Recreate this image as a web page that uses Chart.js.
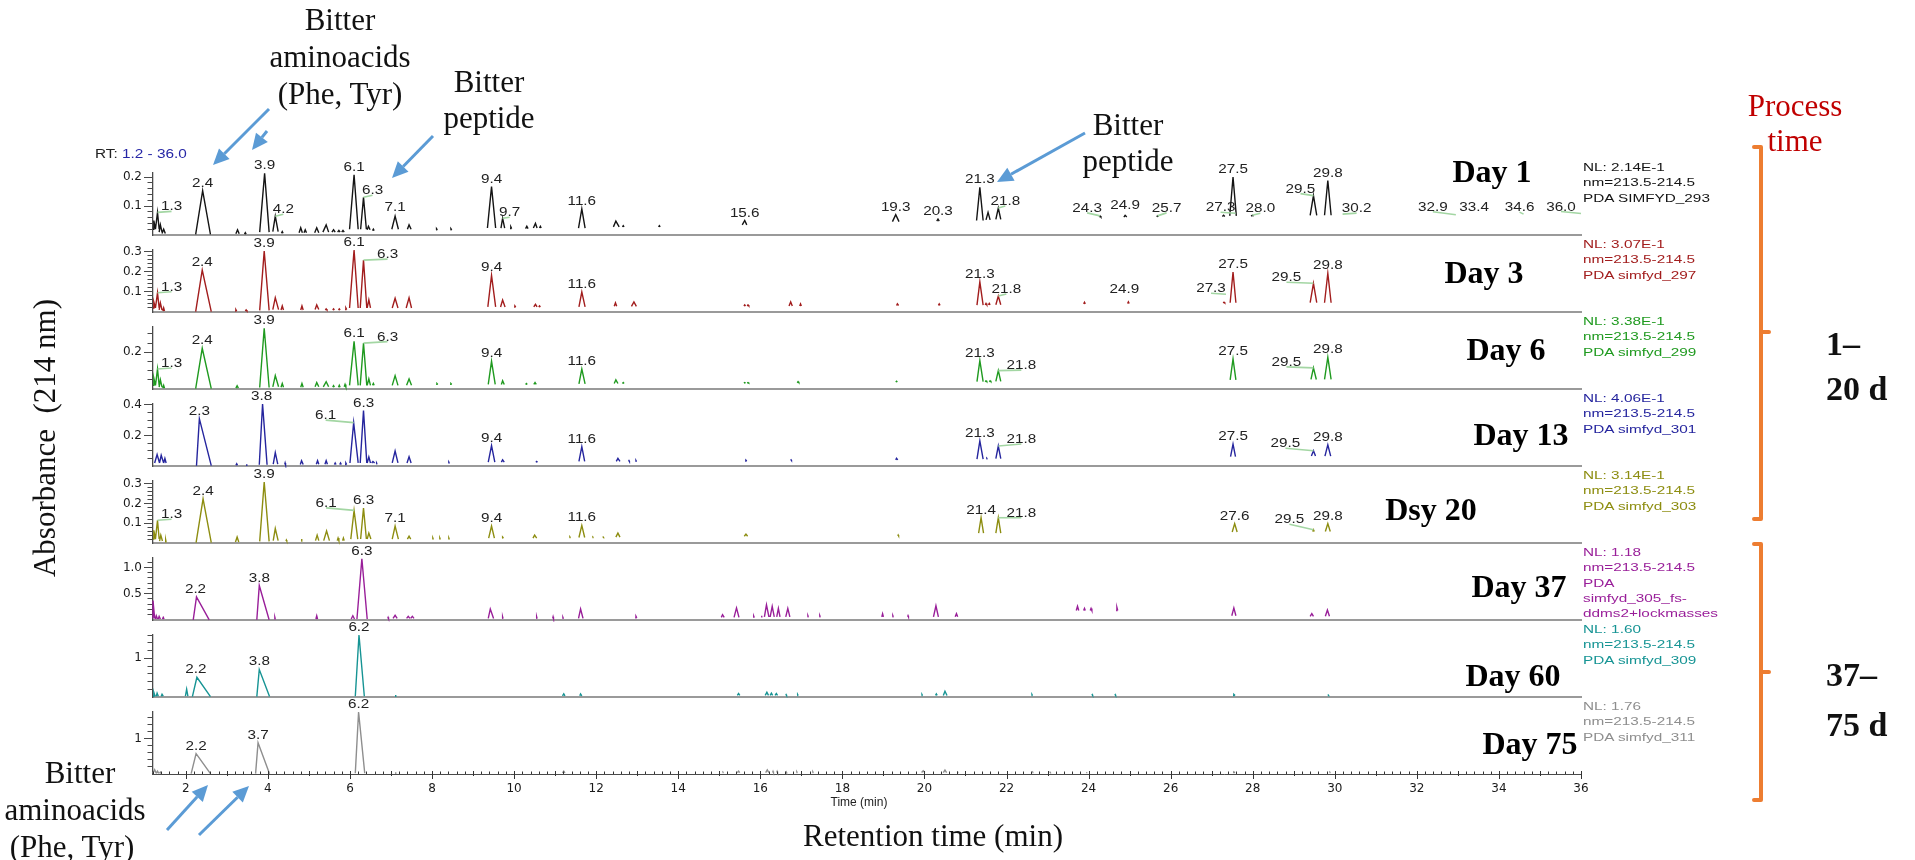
<!DOCTYPE html>
<html lang="en">
<head>
<meta charset="utf-8">
<title>PDA chromatograms (214 nm) over process time</title>
<script src="https://cdn.jsdelivr.net/npm/chart.js"></script>
<style>
  html, body { margin: 0; padding: 0; background: #ffffff; }
  #stage { position: relative; width: 1915px; height: 860px; overflow: hidden; background: #ffffff; }
  #stage canvas { position: absolute; left: 0; }
  #overlay { position: absolute; left: 0; top: 0; z-index: 5; pointer-events: none; }
  .serif { font-family: 'Liberation Serif', 'Times New Roman', serif; }
  .sans { font-family: 'Liberation Sans', Arial, sans-serif; }
</style>
</head>
<body>
<div id="stage">
  <svg id="overlay" xmlns="http://www.w3.org/2000/svg" width="1915" height="860" viewBox="0 0 1915 860">
    <g id="arrows"></g>
    <g id="nlBlocks"></g>
    <g id="dayLabels"></g>

    <g class="serif" font-size="31" fill="#111" text-anchor="middle">
      <text x="340" y="30">Bitter</text>
      <text x="340" y="67">aminoacids</text>
      <text x="340" y="104">(Phe, Tyr)</text>
      <text x="489" y="92">Bitter</text>
      <text x="489" y="128">peptide</text>
      <text x="1128" y="135">Bitter</text>
      <text x="1128" y="171">peptide</text>
      <text x="80" y="783">Bitter</text>
      <text x="75" y="820">aminoacids</text>
      <text x="72" y="857">(Phe, Tyr)</text>
      <text x="933" y="846">Retention time (min)</text>
      <text transform="translate(55,438) rotate(-90)">Absorbance&#160;&#160;(214 nm)</text>
    </g>
    <g class="serif" font-size="31" fill="#c00000" text-anchor="middle">
      <text x="1795" y="116">Process</text>
      <text x="1795" y="151">time</text>
    </g>
    <g class="serif" font-size="34" font-weight="bold" fill="#111">
      <text x="1826" y="355">1–</text>
      <text x="1826" y="400">20 d</text>
      <text x="1826" y="686">37–</text>
      <text x="1826" y="736">75 d</text>
    </g>
    <g fill="none" stroke="#ED7D31" stroke-width="4" stroke-linejoin="round" stroke-linecap="round">
      <path d="M1754,147 L1761,147 L1761,519 L1754,519 M1761,332 L1769,332"/>
      <path d="M1754,544 L1761,544 L1761,800 L1754,800 M1761,672 L1769,672"/>
    </g>
    <g transform="translate(95,158) scale(1.28,1)">
      <text class="sans" font-size="12" fill="#222">RT: <tspan fill="#2626a6">1.2 - 36.0</tspan></text>
    </g>
    <text class="sans" x="859" y="806" font-size="12" fill="#222" text-anchor="middle">Time (min)</text>
  </svg>
</div>
<script>
// ====================== DATA ======================
const xRange = [1.2, 36.0];
const xTickLabels = [2, 4, 6, 8, 10, 12, 14, 16, 18, 20, 22, 24, 26, 28, 30, 32, 34, 36];

const panelNames = ['Day 1', 'Day 3', 'Day 6', 'Day 13', 'Dsy 20', 'Day 37', 'Day 60', 'Day 75'];
const nlMax = [0.214, 0.307, 0.338, 0.406, 0.314, 1.18, 1.60, 1.76];
const nlTextLines = [
  ['NL: 2.14E-1', 'nm=213.5-214.5', 'PDA SIMFYD_293'],
  ['NL: 3.07E-1', 'nm=213.5-214.5', 'PDA simfyd_297'],
  ['NL: 3.38E-1', 'nm=213.5-214.5', 'PDA simfyd_299'],
  ['NL: 4.06E-1', 'nm=213.5-214.5', 'PDA simfyd_301'],
  ['NL: 3.14E-1', 'nm=213.5-214.5', 'PDA simfyd_303'],
  ['NL: 1.18', 'nm=213.5-214.5', 'PDA', 'simfyd_305_fs-', 'ddms2+lockmasses'],
  ['NL: 1.60', 'nm=213.5-214.5', 'PDA simfyd_309'],
  ['NL: 1.76', 'nm=213.5-214.5', 'PDA simfyd_311']
];
const yMajorValues = [[0.1, 0.2], [0.1, 0.2, 0.3], [0.2], [0.2, 0.4], [0.1, 0.2, 0.3], [0.5, 1.0], [1], [1]];
const yMajorLabels = [['0.1', '0.2'], ['0.1', '0.2', '0.3'], ['0.2'], ['0.2', '0.4'], ['0.1', '0.2', '0.3'], ['0.5', '1.0'], ['1'], ['1']];
const yMinorStep = [0.02, 0.02, 0.05, 0.05, 0.02, 0.1, 0.2, 0.2];

// peaks: [start RT, apex RT, end RT, apex absorbance, base absorbance]
const day1Peaks = [
  [1.20,1.22,1.26,0.05,0.02],[1.26,1.31,1.35,0.078,0.02],[1.35,1.38,1.42,0.035,0.01],[1.42,1.46,1.50,0.02,0.005],
  [2.24,2.41,2.60,0.153,0.002],[3.22,3.26,3.30,0.018,0.004],[3.43,3.45,3.47,0.008,0.003],
  [3.80,3.92,4.03,0.213,0.01],[4.12,4.18,4.25,0.065,0.012],[4.33,4.35,4.37,0.012,0.006],
  [4.76,4.80,4.84,0.025,0.008],[4.88,4.91,4.94,0.018,0.008],[5.14,5.19,5.24,0.025,0.008],[5.34,5.42,5.48,0.035,0.01],
  [5.56,5.60,5.64,0.018,0.01],[5.70,5.73,5.76,0.016,0.01],[5.80,5.83,5.86,0.016,0.01],
  [5.99,6.10,6.20,0.208,0.02],[6.26,6.33,6.40,0.130,0.02],[6.42,6.45,6.49,0.03,0.018],[6.55,6.57,6.59,0.02,0.015],
  [7.02,7.10,7.18,0.065,0.02],[7.40,7.44,7.49,0.035,0.02],[8.10,8.11,8.13,0.022,0.018],[8.45,8.46,8.48,0.022,0.018],
  [9.35,9.45,9.55,0.167,0.024],[9.68,9.72,9.77,0.058,0.024],[9.90,9.92,9.94,0.028,0.022],[10.28,10.31,10.34,0.03,0.022],
  [10.47,10.52,10.56,0.04,0.024],[10.62,10.64,10.66,0.03,0.024],[11.57,11.65,11.73,0.09,0.024],
  [12.42,12.48,12.56,0.048,0.028],[12.64,12.66,12.68,0.032,0.028],[13.52,13.54,13.56,0.032,0.028],
  [15.56,15.62,15.67,0.05,0.035],[19.22,19.30,19.38,0.07,0.046],[20.30,20.33,20.36,0.055,0.048],
  [21.27,21.35,21.43,0.165,0.05],[21.50,21.55,21.60,0.078,0.052],[21.74,21.80,21.86,0.093,0.054],
  [24.26,24.28,24.30,0.066,0.062],[24.86,24.89,24.93,0.068,0.062],[25.66,25.68,25.70,0.066,0.063],
  [27.26,27.29,27.32,0.068,0.064],[27.44,27.52,27.60,0.200,0.066],[27.96,27.99,28.02,0.068,0.065],
  [29.40,29.48,29.56,0.136,0.068],[29.75,29.83,29.91,0.188,0.068]
];
const day3Peaks = [
  [1.20,1.22,1.26,0.05,0.02],[1.26,1.31,1.35,0.095,0.02],[1.35,1.38,1.42,0.045,0.01],[1.44,1.46,1.48,0.02,0.005],
  [2.24,2.40,2.62,0.208,0.002],[3.20,3.22,3.24,0.012,0.005],[3.45,3.47,3.49,0.01,0.005],
  [3.80,3.91,4.03,0.302,0.008],[4.12,4.18,4.26,0.071,0.012],[4.32,4.35,4.38,0.03,0.01],
  [4.80,4.83,4.86,0.03,0.01],[5.15,5.19,5.24,0.035,0.012],[5.40,5.42,5.44,0.015,0.01],[5.58,5.60,5.62,0.015,0.01],
  [5.72,5.74,5.76,0.015,0.01],[5.88,5.90,5.92,0.02,0.012],
  [5.99,6.10,6.20,0.307,0.02],[6.25,6.33,6.41,0.257,0.02],[6.42,6.46,6.50,0.06,0.02],
  [7.03,7.10,7.17,0.068,0.02],[7.37,7.44,7.50,0.07,0.02],
  [9.36,9.45,9.55,0.181,0.025],[9.67,9.72,9.78,0.059,0.025],[10.00,10.02,10.04,0.03,0.025],
  [10.48,10.52,10.56,0.038,0.025],[10.60,10.62,10.64,0.03,0.025],[11.58,11.65,11.73,0.099,0.025],
  [12.44,12.47,12.50,0.045,0.028],[12.86,12.92,12.98,0.05,0.028],[15.60,15.62,15.64,0.035,0.03],[15.68,15.70,15.72,0.035,0.03],
  [16.70,16.74,16.78,0.05,0.03],[16.96,16.98,17.00,0.04,0.03],[19.32,19.34,19.37,0.04,0.032],[20.34,20.36,20.38,0.04,0.033],
  [21.28,21.35,21.43,0.149,0.034],[21.48,21.50,21.52,0.042,0.035],[21.56,21.58,21.60,0.042,0.035],[21.74,21.80,21.86,0.079,0.036],
  [23.88,23.90,23.92,0.048,0.04],[24.95,24.97,24.99,0.05,0.042],[27.28,27.30,27.32,0.048,0.044],
  [27.45,27.52,27.59,0.198,0.046],[29.40,29.48,29.56,0.142,0.046],[29.75,29.83,29.91,0.192,0.046]
];
const day6Peaks = [
  [1.20,1.22,1.26,0.06,0.02],[1.26,1.31,1.35,0.109,0.02],[1.35,1.38,1.42,0.05,0.01],[1.44,1.46,1.48,0.02,0.005],
  [2.24,2.40,2.62,0.222,0.002],[3.22,3.25,3.28,0.018,0.005],
  [3.80,3.91,4.03,0.331,0.008],[4.12,4.18,4.26,0.073,0.012],[4.32,4.35,4.38,0.03,0.01],
  [4.80,4.83,4.86,0.03,0.01],[5.15,5.19,5.24,0.035,0.012],[5.35,5.42,5.48,0.04,0.012],[5.58,5.60,5.62,0.018,0.01],
  [5.72,5.74,5.76,0.02,0.01],[5.86,5.88,5.90,0.025,0.012],
  [5.99,6.10,6.20,0.26,0.02],[6.25,6.33,6.41,0.25,0.02],[6.42,6.46,6.50,0.055,0.02],[6.55,6.57,6.59,0.03,0.02],
  [7.03,7.10,7.17,0.073,0.02],[7.38,7.44,7.50,0.055,0.02],[8.10,8.12,8.14,0.03,0.025],[8.44,8.46,8.48,0.03,0.025],
  [9.37,9.45,9.54,0.151,0.025],[9.69,9.72,9.76,0.045,0.025],[10.28,10.30,10.32,0.03,0.025],[10.48,10.51,10.54,0.035,0.025],
  [11.58,11.65,11.73,0.109,0.028],[12.44,12.48,12.53,0.05,0.03],[12.64,12.66,12.68,0.035,0.03],
  [15.60,15.62,15.64,0.035,0.032],[15.68,15.70,15.72,0.035,0.032],[16.90,16.92,16.94,0.04,0.034],[19.30,19.32,19.34,0.042,0.038],
  [21.28,21.35,21.43,0.155,0.04],[21.48,21.50,21.52,0.045,0.04],[21.58,21.60,21.62,0.045,0.04],[21.74,21.80,21.86,0.10,0.042],
  [27.45,27.52,27.59,0.164,0.05],[29.42,29.48,29.55,0.115,0.052],[29.75,29.83,29.91,0.173,0.052]
];
const day13Peaks = [
  [1.24,1.30,1.36,0.075,0.02],[1.36,1.40,1.46,0.07,0.02],[1.46,1.49,1.52,0.05,0.02],
  [2.26,2.33,2.62,0.31,0.002],[3.22,3.24,3.26,0.015,0.005],[3.47,3.48,3.49,0.012,0.005],
  [3.79,3.87,3.98,0.406,0.008],[4.13,4.18,4.24,0.088,0.012],[4.41,4.42,4.43,0.02,0.01],
  [4.79,4.82,4.86,0.035,0.01],[5.18,5.21,5.24,0.035,0.012],[5.39,5.42,5.45,0.035,0.012],
  [5.62,5.64,5.66,0.02,0.01],[5.75,5.77,5.79,0.02,0.01],[5.88,5.90,5.92,0.02,0.01],
  [6.00,6.09,6.20,0.284,0.02],[6.25,6.33,6.41,0.363,0.02],[6.42,6.46,6.50,0.06,0.02],[6.53,6.56,6.60,0.03,0.02],[6.64,6.65,6.66,0.02,0.015],
  [7.03,7.10,7.17,0.098,0.02],[7.39,7.44,7.49,0.061,0.02],[8.40,8.41,8.42,0.025,0.02],
  [9.37,9.45,9.53,0.133,0.025],[9.69,9.72,9.76,0.04,0.025],[10.53,10.55,10.57,0.03,0.025],
  [11.58,11.65,11.72,0.127,0.03],[12.49,12.53,12.58,0.05,0.03],[12.79,12.80,12.81,0.035,0.03],[12.96,12.97,12.98,0.035,0.03],
  [15.63,15.65,15.67,0.038,0.033],[16.74,16.75,16.76,0.04,0.036],[19.30,19.32,19.35,0.05,0.04],
  [21.28,21.35,21.43,0.164,0.045],[21.51,21.52,21.53,0.05,0.047],[21.74,21.80,21.86,0.131,0.048],
  [27.46,27.52,27.58,0.144,0.062],[29.43,29.48,29.53,0.10,0.065],[29.76,29.83,29.90,0.138,0.065]
];
const day20Peaks = [
  [1.20,1.22,1.26,0.064,0.02],[1.26,1.31,1.35,0.115,0.02],[1.36,1.39,1.43,0.04,0.01],[1.50,1.51,1.52,0.015,0.005],
  [2.25,2.42,2.62,0.224,0.002],[3.21,3.25,3.29,0.03,0.005],
  [3.80,3.91,4.03,0.309,0.008],[4.13,4.18,4.25,0.073,0.012],[4.44,4.45,4.46,0.015,0.01],[4.81,4.82,4.83,0.02,0.01],
  [5.16,5.20,5.24,0.04,0.012],[5.36,5.43,5.50,0.061,0.012],[5.69,5.71,5.73,0.025,0.012],[5.82,5.84,5.86,0.025,0.012],
  [6.02,6.10,6.19,0.165,0.02],[6.26,6.33,6.40,0.177,0.02],[6.42,6.46,6.51,0.05,0.02],
  [7.03,7.10,7.18,0.086,0.02],[7.40,7.44,7.48,0.035,0.02],
  [8.01,8.02,8.03,0.025,0.02],[8.18,8.19,8.20,0.025,0.02],[8.40,8.41,8.42,0.025,0.02],
  [9.38,9.45,9.52,0.086,0.025],[9.71,9.72,9.74,0.03,0.025],[10.46,10.50,10.55,0.04,0.025],
  [11.35,11.36,11.37,0.03,0.027],[11.58,11.65,11.72,0.089,0.028],[11.91,11.92,11.93,0.03,0.028],[12.16,12.17,12.18,0.03,0.028],
  [12.48,12.53,12.58,0.05,0.03],[15.61,15.65,15.69,0.045,0.034],[19.35,19.36,19.37,0.04,0.036],
  [21.32,21.38,21.44,0.128,0.05],[21.74,21.80,21.86,0.128,0.05],
  [27.50,27.56,27.62,0.098,0.056],[29.46,29.48,29.50,0.067,0.058],[29.77,29.83,29.89,0.098,0.058]
];
const day37Peaks = [
  [1.20,1.20,1.24,0.37,0.03],[1.26,1.28,1.31,0.08,0.02],[1.33,1.35,1.38,0.07,0.02],[1.43,1.45,1.47,0.05,0.02],
  [2.18,2.26,2.57,0.44,0.003],[3.73,3.79,4.03,0.655,0.005],[4.16,4.17,4.18,0.05,0.02],[5.17,5.19,5.21,0.08,0.02],
  [6.03,6.07,6.11,0.08,0.02],[6.17,6.29,6.42,1.165,0.02],[6.92,6.93,6.94,0.05,0.03],[7.05,7.10,7.15,0.09,0.03],
  [7.38,7.42,7.46,0.07,0.03],[7.48,7.52,7.56,0.07,0.03],[9.37,9.42,9.50,0.21,0.03],[9.71,9.72,9.73,0.06,0.03],
  [10.54,10.55,10.56,0.06,0.03],[10.94,10.95,10.96,0.06,0.03],[11.18,11.19,11.20,0.05,0.03],[11.57,11.62,11.68,0.21,0.03],
  [12.95,12.97,12.99,0.07,0.04],[15.05,15.08,15.12,0.10,0.05],[15.36,15.42,15.48,0.23,0.05],[15.83,15.84,15.85,0.07,0.05],
  [16.02,16.03,16.04,0.08,0.06],[16.10,16.15,16.21,0.29,0.06],[16.24,16.29,16.34,0.26,0.06],[16.40,16.44,16.48,0.22,0.06],
  [16.62,16.67,16.72,0.22,0.06],[17.15,17.16,17.17,0.08,0.06],[17.44,17.45,17.46,0.08,0.06],
  [18.96,18.98,19.00,0.12,0.06],[19.22,19.23,19.24,0.08,0.06],[19.59,19.60,19.61,0.08,0.06],
  [20.22,20.28,20.34,0.27,0.06],[20.75,20.78,20.81,0.12,0.06],
  [23.70,23.73,23.76,0.26,0.18],[23.88,23.90,23.92,0.22,0.18],[24.04,24.06,24.08,0.22,0.18],[24.67,24.69,24.71,0.24,0.18],
  [27.49,27.54,27.59,0.23,0.08],[29.40,29.44,29.48,0.12,0.07],[29.77,29.82,29.87,0.19,0.07]
];
const day60Peaks = [
  [1.20,1.22,1.25,0.12,0.02],[1.28,1.30,1.33,0.10,0.02],[1.40,1.42,1.45,0.07,0.02],[1.99,2.02,2.05,0.20,0.02],
  [2.16,2.27,2.60,0.51,0.01],[3.73,3.79,4.04,0.71,0.01],[6.13,6.22,6.35,1.60,0.02],[7.10,7.11,7.12,0.05,0.02],
  [11.18,11.21,11.24,0.08,0.03],[11.60,11.62,11.65,0.08,0.03],[15.44,15.47,15.50,0.09,0.04],
  [16.12,16.16,16.20,0.12,0.04],[16.24,16.27,16.30,0.10,0.04],[16.36,16.39,16.42,0.09,0.04],[16.62,16.63,16.64,0.06,0.04],[16.90,16.91,16.92,0.06,0.04],
  [19.93,19.94,19.95,0.06,0.04],[20.27,20.29,20.31,0.08,0.04],[20.46,20.50,20.55,0.15,0.04],
  [22.61,22.62,22.63,0.06,0.04],[24.08,24.09,24.10,0.06,0.04],[24.64,24.65,24.66,0.06,0.04],
  [27.52,27.54,27.57,0.07,0.04],[29.83,29.84,29.85,0.05,0.04]
];
const day75Peaks = [
  [1.20,1.24,1.28,0.12,0.02],[1.28,1.31,1.34,0.08,0.02],[1.36,1.38,1.40,0.05,0.02],
  [2.13,2.25,2.60,0.58,0.01],[3.70,3.76,4.04,0.89,0.01],[6.13,6.21,6.36,1.76,0.02],[7.10,7.11,7.12,0.05,0.02],
  [11.18,11.21,11.24,0.08,0.03],[15.08,15.09,15.10,0.05,0.04],[15.44,15.47,15.50,0.08,0.04],
  [16.13,16.17,16.21,0.12,0.04],[16.30,16.31,16.32,0.07,0.04],[16.40,16.41,16.42,0.07,0.04],[16.62,16.63,16.64,0.06,0.04],
  [16.88,16.89,16.90,0.06,0.04],[17.27,17.28,17.29,0.06,0.04],
  [19.93,19.97,20.01,0.09,0.04],[20.46,20.50,20.54,0.11,0.04],[20.80,20.81,20.82,0.05,0.04],
  [22.63,22.64,22.65,0.05,0.04],[23.05,23.06,23.07,0.05,0.04],[23.94,23.95,23.96,0.05,0.04],
  [27.52,27.54,27.57,0.06,0.04],[29.87,29.88,29.89,0.05,0.04]
];

// peak labels: [text, apex RT, apex absorbance]
const day1Labels = [
  ['1.3',1.31,0.078],['2.4',2.41,0.153],['3.9',3.92,0.213],['4.2',4.18,0.065],['6.1',6.10,0.208],['6.3',6.33,0.130],
  ['7.1',7.10,0.065],['9.4',9.45,0.167],['9.7',9.72,0.058],['11.6',11.65,0.09],['15.6',15.62,0.05],['19.3',19.30,0.07],
  ['20.3',20.33,0.055],['21.3',21.35,0.165],['21.8',21.80,0.093],['24.3',24.28,0.066],['24.9',24.89,0.068],['25.7',25.68,0.066],
  ['27.3',27.29,0.068],['27.5',27.52,0.200],['28.0',27.99,0.068],['29.5',29.48,0.136],['29.8',29.83,0.188],['30.2',30.19,0.072],
  ['32.9',32.95,0.07],['33.4',33.42,0.07],['34.6',34.60,0.072],['36.0',36.0,0.074]
];
const day3Labels = [
  ['1.3',1.31,0.095],['2.4',2.40,0.208],['3.9',3.91,0.302],['6.1',6.10,0.307],['6.3',6.33,0.257],['9.4',9.45,0.181],
  ['11.6',11.65,0.099],['21.3',21.35,0.149],['21.8',21.80,0.079],['24.9',24.97,0.05],['27.3',27.30,0.048],['27.5',27.52,0.198],
  ['29.5',29.48,0.142],['29.8',29.83,0.192]
];
const day6Labels = [
  ['1.3',1.31,0.109],['2.4',2.40,0.222],['3.9',3.91,0.331],['6.1',6.10,0.26],['6.3',6.33,0.25],['9.4',9.45,0.151],
  ['11.6',11.65,0.109],['21.3',21.35,0.155],['21.8',21.80,0.10],['27.5',27.52,0.164],['29.5',29.48,0.115],['29.8',29.83,0.173]
];
const day13Labels = [
  ['2.3',2.33,0.31],['3.8',3.87,0.406],['6.1',6.09,0.284],['6.3',6.33,0.363],['9.4',9.45,0.133],['11.6',11.65,0.127],
  ['21.3',21.35,0.164],['21.8',21.80,0.131],['27.5',27.52,0.144],['29.5',29.48,0.10],['29.8',29.83,0.138]
];
const day20Labels = [
  ['1.3',1.31,0.115],['2.4',2.42,0.224],['3.9',3.91,0.309],['6.1',6.10,0.165],['6.3',6.33,0.177],['7.1',7.10,0.086],
  ['9.4',9.45,0.086],['11.6',11.65,0.089],['21.4',21.38,0.128],['21.8',21.80,0.128],['27.6',27.56,0.098],['29.5',29.48,0.067],
  ['29.8',29.83,0.098]
];
const day37Labels = [['2.2',2.26,0.44],['3.8',3.79,0.655],['6.3',6.29,1.165]];
const day60Labels = [['2.2',2.27,0.51],['3.8',3.79,0.71],['6.2',6.22,1.60]];
const day75Labels = [['2.2',2.25,0.58],['3.7',3.76,0.89],['6.2',6.21,1.76]];

// ====================== LAYOUT & STYLE ======================
const LAYOUT = {
  canvasWidth: 1600, plotLeft: 153, plotRightPad: 19, plotHeight: 62,
  baselines: [235, 312, 389, 466, 543, 620, 697, 774],
  upperH: 100, upperBottomPad: 2, lowerH: 140, lowerAxisH: 34,
  nlX: 1583, nlFirstOffset: -64, nlLineStep: 15.3,
  dayLabelPos: [[1492,182],[1484,283],[1506,360],[1521,445],[1431,520],[1519,597],[1513,686],[1530,754]],
  arrows: [[269,109,213,165],[267,131,252,150],[433,136,392,178],[1085,133,997,182],[167,830,208,785],[199,835,249,786]],
  // label nudges: [dx, dy] text offset; 3rd item 1 => leader to apex; 4 items => explicit leader [.., lx, ly]
  labelNudges: [
    [[14,-2,1],[0,-4],[0,-4],[8,-3,1],[0,-4],[9,-3,1],[0,-5],[0,-4],[7,-2,1],[0,-4],[0,-4],[0,-4],[0,-4],[0,-4],[7,-3,1],
     [-13,-4,1],[0,-6],[9,-4,1],[-3,-4,15,1],[0,-4],[8,-3,1],[-13,-3,1],[0,-4],[14,-2,1],[-23,-4,1],[-1,-4],[-4,-3,1],[-20,-3,1]],
    [[14,-2,1],[0,-4],[0,-4],[0,-4],[24,-2,1],[0,-4],[0,-4],[0,-4],[8,-3,1],[-4,-9],[-13,-10,15,1],[0,-4],[-27,-2,1],[0,-4]],
    [[14,-2,1],[0,-4],[0,-4],[0,-4],[24,-2.5,1],[0,-4],[0,-4],[0,-4],[23,-1.5,1],[0,-4],[-27,-2,1],[0,-4]],
    [[0,-4],[-1,-4],[-28,-3.5,1],[0,-4],[0,-4],[0,-4],[0,-4],[23,-3,1],[0,-4],[-28,-3.5,1],[0,-4]],
    [[14,-2,1],[0,-4],[0,-4],[-28,-3.5,1],[0,-4],[0,-4],[0,-4],[0,-4],[0,-4],[23,-1,1],[0,-4],[-24,-6.5,1],[0,-4]],
    [[-1,-4],[0,-4],[0,-4]],
    [[-1,-4],[0,-4],[0,-4]],
    [[0,-4],[0,-4],[0,-4]]
  ]
};
const STYLE = {
  colors: ['#141414', '#a21d1d', '#1f9a1f', '#25259e', '#8d8d10', '#991e99', '#169494', '#8e8e8e'],
  baselineColor: '#9a9a9a', yAxisColor: '#4a4a4a', tickColor: '#4a4a4a', bottomAxisColor: '#4a4a4a',
  tickFont: { family: "'DejaVu Sans', 'Liberation Sans', sans-serif", size: 12 },
  tickLabelColor: '#1a1a1a',
  labelFont: "12.5px 'Liberation Sans', Arial, sans-serif", labelColor: '#222', labelStretch: 1.22,
  leaderColor: '#a3d6a3', traceWidth: 1.4, arrowColor: '#5b9bd5'
};

// ====================== BUILD ======================
const peakSets = [day1Peaks, day3Peaks, day6Peaks, day13Peaks, day20Peaks, day37Peaks, day60Peaks, day75Peaks];
const labelSets = [day1Labels, day3Labels, day6Labels, day13Labels, day20Labels, day37Labels, day60Labels, day75Labels];

const stage = document.getElementById('stage');
const overlay = document.getElementById('overlay');
const SVGNS = 'http://www.w3.org/2000/svg';

function tracePoints(peaks) {
  const pts = [];
  peaks.forEach(p => {
    pts.push({ x: p[0], y: p[4] }, { x: p[1], y: p[3] }, { x: p[2], y: p[4] }, { x: p[2], y: null });
  });
  return pts;
}

function near(a, b) { return Math.abs(a - b) < 1e-6; }

function labelPlugin(labels, nudges) {
  return {
    id: 'peakLabels',
    afterDatasetsDraw(chart) {
      const ctx = chart.ctx, xs = chart.scales.x, ys = chart.scales.y;
      ctx.save();
      labels.forEach((lab, k) => {
        const n = nudges[k] || [0, -4];
        const ax = xs.getPixelForValue(lab[1]);
        const ay = ys.getPixelForValue(lab[2]);
        const tx = ax + n[0], ty = ay + n[1];
        if (n.length >= 3) {
          ctx.beginPath();
          ctx.strokeStyle = STYLE.leaderColor;
          ctx.lineWidth = 1.6;
          ctx.moveTo(tx, ty + 1);
          if (n.length === 4) ctx.lineTo(tx + n[2], ty + 1 + n[3]);
          else ctx.lineTo(ax, ay);
          ctx.stroke();
        }
        ctx.save();
        ctx.translate(tx, ty);
        ctx.scale(STYLE.labelStretch, 1);
        ctx.font = STYLE.labelFont;
        ctx.fillStyle = STYLE.labelColor;
        ctx.textAlign = 'center';
        ctx.textBaseline = 'alphabetic';
        ctx.fillText(lab[0], 0, 0);
        ctx.restore();
      });
      ctx.restore();
    }
  };
}

// tick marks of the time axis: straddle the axis line (minor up, majors also down)
const timeTicksPlugin = {
  id: 'timeTicks',
  afterDraw(chart) {
    const xs = chart.scales.x, ctx = chart.ctx, y0 = Math.round(chart.chartArea.bottom);
    ctx.save();
    ctx.strokeStyle = '#333';
    ctx.lineWidth = 1;
    xs.ticks.forEach(t => {
      const px = Math.round(xs.getPixelForValue(t.value)) + 0.5;
      const r = Math.round(t.value), isInt = near(t.value, r);
      const down = (isInt && xTickLabels.includes(r)) ? 5 : (isInt ? 2 : 0);
      const up = isInt ? 3 : 2.5;
      ctx.beginPath();
      ctx.moveTo(px, y0 - up);
      ctx.lineTo(px, y0 + down);
      ctx.stroke();
    });
    ctx.restore();
  }
};

function makePanel(i) {
  const bottom = i === peakSets.length - 1;
  const H = bottom ? LAYOUT.lowerH : LAYOUT.upperH;
  const areaBottom = bottom ? H - LAYOUT.lowerAxisH : H - LAYOUT.upperBottomPad;
  const cv = document.createElement('canvas');
  cv.width = LAYOUT.canvasWidth; cv.height = H;
  cv.style.width = LAYOUT.canvasWidth + 'px'; cv.style.height = H + 'px';
  cv.style.top = (LAYOUT.baselines[i] - areaBottom) + 'px';
  stage.insertBefore(cv, overlay);

  const majors = yMajorValues[i], majorText = yMajorLabels[i];
  const isMajorY = v => majors.some(m => near(m, v));

  const xScale = bottom ? {
    type: 'linear', min: xRange[0], max: xRange[1],
    border: { display: true, color: STYLE.bottomAxisColor, width: 1 },
    grid: { display: false, drawTicks: false },
    ticks: {
      stepSize: 0.2, autoSkip: false, maxRotation: 0, minRotation: 0, includeBounds: false, padding: 8,
      color: STYLE.tickLabelColor, font: STYLE.tickFont,
      callback: v => { const r = Math.round(v); return (near(v, r) && xTickLabels.includes(r)) ? String(r) : ''; }
    },
    afterFit: s => { s.height = LAYOUT.lowerAxisH; s.paddingLeft = 0; s.paddingRight = 0; }
  } : {
    type: 'linear', min: xRange[0], max: xRange[1], display: true,
    border: { display: true, color: STYLE.baselineColor, width: 2 },
    grid: { display: false, drawTicks: false }, ticks: { display: false },
    afterFit: s => { s.height = 0; s.paddingLeft = 0; s.paddingRight = 0; }
  };

  const plugins = [labelPlugin(labelSets[i], LAYOUT.labelNudges[i])];
  if (bottom) plugins.push(timeTicksPlugin);

  new Chart(cv, {
    type: 'line',
    data: {
      datasets: [{
        data: tracePoints(peakSets[i]),
        borderColor: STYLE.colors[i], borderWidth: STYLE.traceWidth,
        pointRadius: 0, tension: 0, spanGaps: false, clip: false, fill: false
      }]
    },
    options: {
      responsive: false, animation: false, devicePixelRatio: 1, events: [],
      layout: { padding: { left: 0, right: LAYOUT.plotRightPad, top: areaBottom - LAYOUT.plotHeight, bottom: bottom ? 0 : LAYOUT.upperBottomPad } },
      plugins: { legend: { display: false }, tooltip: { enabled: false } },
      scales: {
        x: xScale,
        y: {
          type: 'linear', min: 0, max: nlMax[i],
          border: { display: true, color: STYLE.yAxisColor, width: 1.3 },
          grid: {
            display: true, drawOnChartArea: false, drawTicks: true, tickLength: 9, tickColor: STYLE.tickColor, tickWidth: 1,
            tickBorderDash: c => (c.tick && isMajorY(c.tick.value)) ? [] : [0, 3.5, 6, 100]
          },
          ticks: {
            stepSize: yMinorStep[i], includeBounds: false, autoSkip: false, padding: 2,
            color: STYLE.tickLabelColor, font: STYLE.tickFont,
            callback: v => {
              if (v < 1e-9) return null;
              const k = majors.findIndex(m => near(m, v));
              return k >= 0 ? majorText[k] : '';
            }
          },
          afterFit: s => { s.width = LAYOUT.plotLeft; s.paddingTop = 0; s.paddingBottom = 0; }
        }
      }
    },
    plugins: plugins
  });
}

for (let i = 0; i < peakSets.length; i++) makePanel(i);

// ---- SVG annotations built from data ----
function svgEl(tag, attrs, text) {
  const el = document.createElementNS(SVGNS, tag);
  Object.keys(attrs).forEach(k => el.setAttribute(k, attrs[k]));
  if (text !== undefined) el.textContent = text;
  return el;
}
const nlGroup = document.getElementById('nlBlocks');
nlTextLines.forEach((lines, i) => {
  lines.forEach((ln, j) => {
    const y = LAYOUT.baselines[i] + LAYOUT.nlFirstOffset + j * LAYOUT.nlLineStep;
    const g = svgEl('g', { transform: `translate(${LAYOUT.nlX},${y.toFixed(1)}) scale(1.3,1)` });
    g.appendChild(svgEl('text', { 'class': 'sans', 'font-size': '11.8', fill: STYLE.colors[i] }, ln));
    nlGroup.appendChild(g);
  });
});
const dayGroup = document.getElementById('dayLabels');
panelNames.forEach((nm, i) => {
  const [x, y] = LAYOUT.dayLabelPos[i];
  dayGroup.appendChild(svgEl('text', { 'class': 'serif', x, y, 'font-size': '32', 'font-weight': 'bold', fill: '#000', 'text-anchor': 'middle' }, nm));
});
const arrowGroup = document.getElementById('arrows');
LAYOUT.arrows.forEach(([x1, y1, x2, y2]) => {
  const a = Math.atan2(y2 - y1, x2 - x1), L = 16, W = 7.5;
  const bx = x2 - L * Math.cos(a), by = y2 - L * Math.sin(a);
  arrowGroup.appendChild(svgEl('line', { x1, y1, x2: bx, y2: by, stroke: STYLE.arrowColor, 'stroke-width': 3 }));
  const pts = [[x2, y2], [bx + W * Math.sin(a), by - W * Math.cos(a)], [bx - W * Math.sin(a), by + W * Math.cos(a)]];
  arrowGroup.appendChild(svgEl('polygon', { points: pts.map(p => p.map(v => v.toFixed(1)).join(',')).join(' '), fill: STYLE.arrowColor }));
});
</script>
</body>
</html>
